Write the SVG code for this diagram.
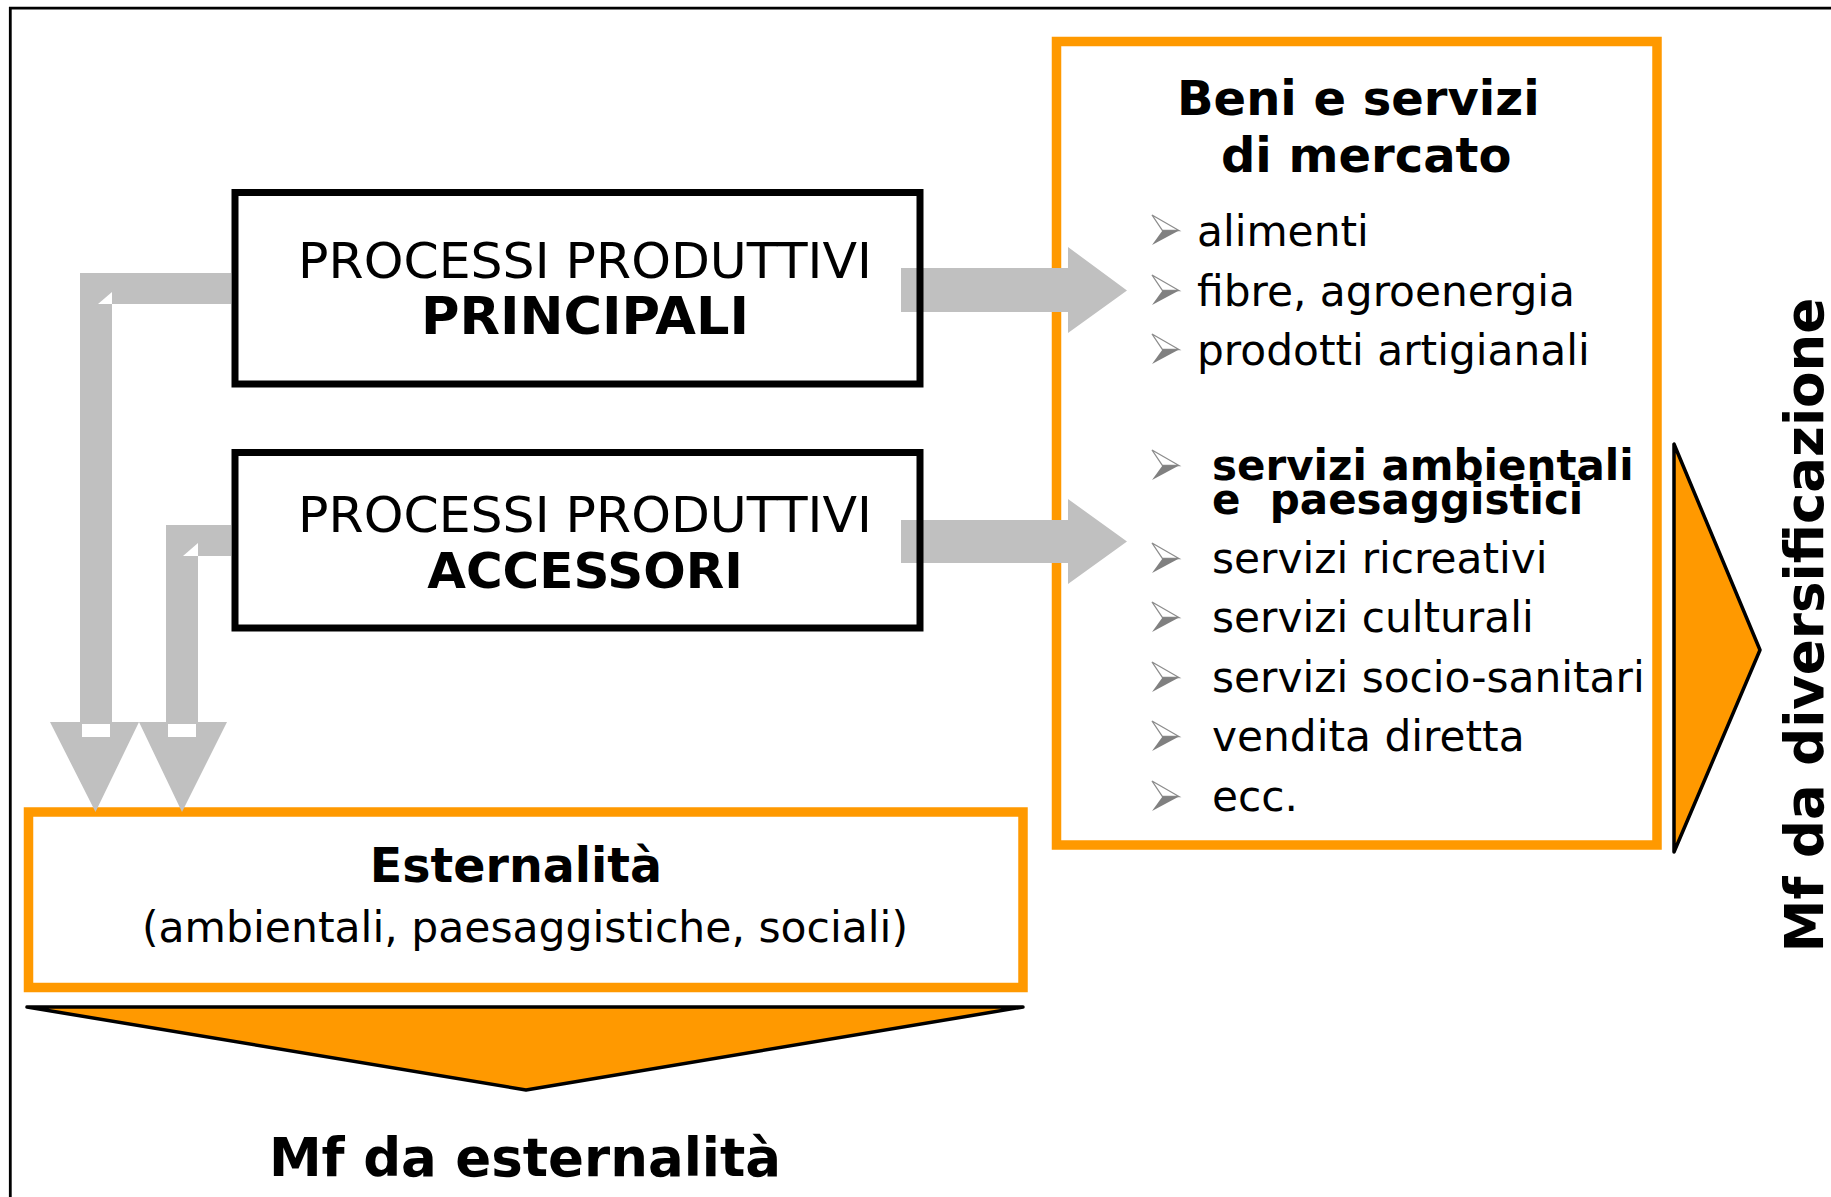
<svg xmlns="http://www.w3.org/2000/svg" width="1831" height="1197" viewBox="0 0 1831 1197">
<style>
.t{font-family:"DejaVu Sans",Verdana,sans-serif;fill:#000}
.b{font-weight:bold}
.box{fill:none;stroke:#000;stroke-width:7}
.obox{fill:#fff;stroke:#FF9900;stroke-width:9.5}
.tri{fill:#FF9900;stroke:#000;stroke-width:3.5;stroke-linejoin:round}
.gar{fill:#C0C0C0}
.notch{fill:#fff}
</style>
<defs>
<g id="bul">
<path d="M0,-30 L27,-14.5 L10.5,-14.5 Z" fill="#fff" stroke="#8c8c8c" stroke-width="1.3" stroke-linejoin="miter"/>
<path d="M10.5,-14.5 L27,-14.5 L0,0 Z" fill="#808080"/>
</g>
</defs>
<rect width="1831" height="1197" fill="#fff"/>
<path d="M10.3,1197 V8.2 H1831" fill="none" stroke="#000" stroke-width="2.8"/>

<g id="beni">
<rect class="obox" x="1056.5" y="41.5" width="600.5" height="803.5"/>
<text class="t b" x="1177" y="115" font-size="48">Beni e servizi</text>
<text class="t b" x="1221" y="172" font-size="48">di mercato</text>
<use href="#bul" x="1152" y="245"/>
<use href="#bul" x="1152" y="305"/>
<use href="#bul" x="1152" y="364"/>
<text class="t" x="1197" y="246" font-size="42.3">alimenti</text>
<text class="t" x="1197" y="306" font-size="42.3">fibre, agroenergia</text>
<text class="t" x="1197" y="365" font-size="42.3">prodotti artigianali</text>
<use href="#bul" x="1152" y="480"/>
<use href="#bul" x="1152" y="573"/>
<use href="#bul" x="1152" y="632"/>
<use href="#bul" x="1152" y="692"/>
<use href="#bul" x="1152" y="751"/>
<use href="#bul" x="1152" y="811"/>
<text class="t b" x="1212" y="480" font-size="42">servizi ambientali</text>
<text class="t b" x="1212" y="514" font-size="42" xml:space="preserve">e  paesaggistici</text>
<text class="t" x="1212" y="573" font-size="42.3">servizi ricreativi</text>
<text class="t" x="1212" y="632" font-size="42.3">servizi culturali</text>
<text class="t" x="1212" y="692" font-size="42.3">servizi socio-sanitari</text>
<text class="t" x="1212" y="751" font-size="42.3">vendita diretta</text>
<text class="t" x="1212" y="811" font-size="42.3">ecc.</text>
</g>

<g id="esternalita">
<rect class="obox" x="28.5" y="812" width="994.5" height="175.5"/>
<text class="t b" x="516" y="882" font-size="47.5" text-anchor="middle">Esternalità</text>
<text class="t" x="525" y="942" font-size="42.5" text-anchor="middle">(ambientali, paesaggistiche, sociali)</text>
</g>

<g id="connectors">
<path class="gar" d="M901,268 H1068 V247 L1127,290.5 L1068,333 V312 H901 Z"/>
<path class="gar" d="M901,520 H1068 V499 L1127,541.5 L1068,584 V563 H901 Z"/>
<path class="gar" d="M231,273 H80 V722 H50 L95.5,812 L139,722 H112 V304 H231 Z"/>
<path class="gar" d="M231,525 H166 V722 H139 L182,812 L227,722 H198 V556 H231 Z"/>
<path class="notch" d="M98,304 L112,304 L112,292 Z"/>
<path class="notch" d="M183,556 L198,556 L198,543 Z"/>
<rect class="notch" x="82" y="724" width="28" height="13"/>
<rect class="notch" x="168" y="724" width="28" height="13"/>
</g>

<g id="principali">
<rect class="box" x="235" y="192.5" width="685" height="191.5"/>
<text class="t" x="585" y="278" font-size="50.5" text-anchor="middle">PROCESSI PRODUTTIVI</text>
<text class="t b" x="585" y="334" font-size="51" text-anchor="middle" textLength="328" lengthAdjust="spacingAndGlyphs">PRINCIPALI</text>
</g>

<g id="accessori">
<rect class="box" x="235" y="452.5" width="685" height="175.5"/>
<text class="t" x="585" y="532" font-size="50.5" text-anchor="middle">PROCESSI PRODUTTIVI</text>
<text class="t b" x="585" y="588" font-size="50" text-anchor="middle">ACCESSORI</text>
</g>

<g id="mf-esternalita">
<polygon class="tri" points="27,1007 1023,1007 526,1090"/>
<text class="t b" x="525" y="1176" font-size="53" text-anchor="middle">Mf da esternalità</text>
</g>

<g id="mf-diversificazione">
<polygon class="tri" points="1674,444 1674,852 1760,650"/>
<text class="t b" font-size="53" text-anchor="middle" transform="translate(1823,625) rotate(-90)">Mf da diversificazione</text>
</g>
</svg>
